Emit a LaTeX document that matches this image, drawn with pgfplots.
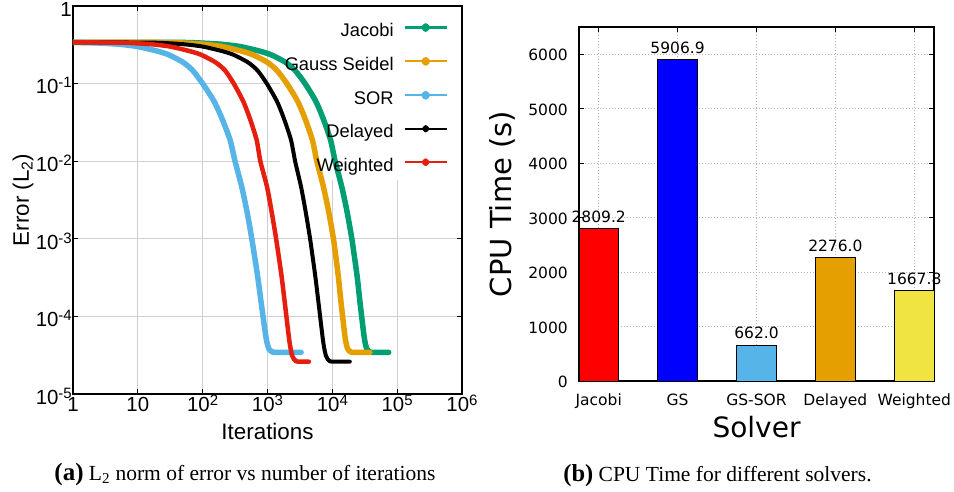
\documentclass[border=0pt]{standalone}
\usepackage{fontspec}
\setmainfont{Liberation Serif}
\newfontfamily\lsans{Liberation Sans}
\newfontfamily\dejavu{DejaVu Sans}
\usepackage{pgfplots}
\pgfplotsset{compat=1.18}
\definecolor{cjac}{HTML}{009E73}
\definecolor{cgs}{HTML}{E69F00}
\definecolor{csor}{HTML}{56B4E9}
\definecolor{cwt}{HTML}{E51E10}
\definecolor{byel}{HTML}{F0E442}
\newcommand\sps[1]{\raisebox{6pt}{\fontsize{15}{15}\selectfont #1}}
\begin{document}
\begin{tikzpicture}
\useasboundingbox (0,0) rectangle (954pt,492pt);
% ---------------- left panel ----------------
\begin{axis}[
  at={(73pt,98pt)}, anchor=south west,
  scale only axis, width=389pt, height=388pt,
  xmode=log, ymode=log,
  xmin=1, xmax=1e6, ymin=1e-5, ymax=1,
  xtick={1,10,100,1000,10000,100000,1000000},
  xticklabels={1,10,10\sps{2},10\sps{3},10\sps{4},10\sps{5},10\sps{6}},
  ytick={1e-5,1e-4,1e-3,1e-2,1e-1,1},
  yticklabels={10\sps{-5},10\sps{-4},10\sps{-3},10\sps{-2},10\sps{-1},1},
  xminorticks=false, yminorticks=false,
  tick align=inside, tickpos=both, major tick length=5pt,
  tick style={black, line width=0.9pt},
  grid=major, grid style={gray!38, line width=1pt},
  axis line style={line width=1.3pt},
  tick label style={font=\lsans\fontsize{20.4}{22}\selectfont, inner sep=0pt},
  xticklabel style={anchor=base, yshift=-17.7pt},
  yticklabel style={anchor=base east, xshift=-1pt, yshift=-10.3pt},
  xlabel={Iterations}, ylabel={Error (L\textsubscript{2})},
  label style={font=\lsans\fontsize{22.4}{24}\selectfont},
  xlabel style={at={(axis description cs:0.5,0)}, anchor=base, yshift=-45pt, inner sep=0pt},
  ylabel style={at={([xshift=-50pt]axis description cs:0,0.5)}, anchor=center},
  legend style={at={(rel axis cs:1,1)}, anchor=north east, xshift=-14pt, yshift=-17pt,
    draw=none, fill=none, inner sep=0pt,
    font=\lsans\fontsize{18.3}{20}\selectfont, row sep=16.5pt, column sep=10pt,
    nodes={inner sep=0pt, text height=13pt, text depth=4pt}},
  legend cell align=right, legend plot pos=right,
  legend image code/.code={\draw[#1, line width=2.2pt, line cap=butt] (0pt,4.5pt) -- (42pt,4.5pt);
     \fill[#1] (21pt,4.5pt) circle (1.6pt);},
]
\fill[white] (axis cs:1565,5.73e-3) rectangle ([xshift=-0.8pt,yshift=-0.8pt]rel axis cs:1,1);
\addplot[cjac, line width=5.5pt, line cap=round, line join=round, smooth, tension=0.4] coordinates {
(1,0.340) (10,0.340) (38,0.340) (76,0.336) (190,0.322) (380,0.300) (760,0.262) (1140,0.235)
(1901,0.188) (2661,0.148) (3802,0.100) (5572,0.059) (7261,0.035) (9397,0.0187) (11041,0.0100)
(13964,0.0047) (16749,0.0023) (20000,0.0010) (23988,3.42e-4) (26792,1.49e-4) (31117,5.3e-5)
(33963,3.83e-5) (38371,3.47e-5) (50000,3.44e-5) (74000,3.44e-5)};
\addlegendentry{Jacobi}
\addplot[cgs, line width=5.5pt, line cap=round, line join=round, smooth, tension=0.4] coordinates {
(1,0.340) (10,0.340) (40,0.336) (100,0.322) (200,0.300) (399,0.262) (598,0.235) (998,0.188)
(1396,0.148) (1995,0.100) (2924,0.059) (3811,0.035) (4932,0.0187) (5768,0.0100) (7278,0.0047)
(8730,0.0023) (10399,0.0010) (12300,3.42e-4) (13650,1.49e-4) (15780,5.3e-5) (17220,3.83e-5)
(19450,3.47e-5) (25000,3.44e-5) (38000,3.44e-5)};
\addlegendentry{Gauss Seidel}
\addplot[csor, line width=5.5pt, line cap=round, line join=round, smooth, tension=0.4] coordinates {
(1,0.340) (2,0.336) (5,0.322) (10,0.300) (20,0.262) (30,0.235) (50,0.188) (70,0.148) (100,0.100)
(150,0.059) (200,0.035) (265,0.0187) (316,0.0100) (400,0.0047) (480,0.0023) (573,0.0010)
(700,3.42e-4) (800,1.49e-4) (950,5.3e-5) (1050,3.83e-5) (1200,3.47e-5) (1500,3.44e-5)
(2000,3.44e-5) (3300,3.44e-5)};
\addlegendentry{SOR}
\addplot[black, line width=4pt, line cap=round, line join=round, smooth, tension=0.4] coordinates {
(1,0.340) (5,0.339) (20,0.336) (50,0.322) (100,0.300) (200,0.262) (300,0.235) (500,0.188)
(700,0.148) (977,0.100) (1400,0.059) (1803,0.035) (2307,0.0187) (2667,0.0100) (3289,0.0047)
(3855,0.0023) (4539,0.0010) (5433,3.4e-4) (6138,1.47e-4) (7211,4.78e-5) (7962,3.11e-5)
(9099,2.65e-5) (12000,2.61e-5) (18600,2.61e-5)};
\addlegendentry{Delayed}
\addplot[cwt, line width=4.5pt, line cap=round, line join=round, smooth, tension=0.4] coordinates {
(1,0.340) (2,0.339) (6.3,0.336) (15.8,0.322) (31.6,0.300) (63.2,0.262) (94.9,0.235) (158,0.188)
(221,0.148) (302,0.100) (423,0.059) (538,0.035) (681,0.0187) (776,0.0100) (982,0.0047)
(1151,0.0023) (1358,0.0010) (1641,3.4e-4) (1854,1.47e-4) (2178,4.78e-5) (2404,3.11e-5)
(2748,2.65e-5) (3500,2.61e-5) (4350,2.61e-5)};
\addlegendentry{Weighted}
\end{axis}
% ---------------- right panel ----------------
\begin{axis}[
  at={(579pt,111pt)}, anchor=south west,
  scale only axis, width=355pt, height=354pt,
  xmin=-0.25, xmax=4.25, ymin=0, ymax=6500,
  xtick={0,1,2,3,4}, xticklabels={Jacobi,GS,GS-SOR,Delayed,Weighted},
  ytick={0,1000,2000,3000,4000,5000,6000},
  /pgf/number format/1000 sep={}, /pgf/number format/assume math mode=true,
  tick align=inside, tickpos=both, major tick length=5pt,
  tick style={black, line width=0.8pt},
  grid=major, grid style={gray!60, line width=0.6pt, dash pattern=on 1pt off 2pt},
  axis line style={line width=1.1pt},
  tick label style={font=\dejavu\fontsize{15.5}{18}\selectfont, inner sep=0pt},
  xticklabel style={anchor=base, yshift=-24.7pt},
  yticklabel style={anchor=east, xshift=-11pt, yshift=-1pt},
  xlabel={Solver}, ylabel={CPU Time (s)},
  xlabel style={font=\dejavu\fontsize{28}{30}\selectfont, at={(axis description cs:0.5,0)}, anchor=base, yshift=-57pt, inner sep=0pt},
  ylabel style={font=\dejavu\fontsize{29}{31}\selectfont, at={([xshift=-77pt]axis description cs:0,0.5)}, anchor=center},
  every axis plot/.append style={ybar, bar width=0.5, bar shift=0pt, draw=black, line width=0.8pt},
  nodes near coords={\pgfmathprintnumber[fixed,fixed zerofill,precision=1]{\pgfplotspointmeta}},
  every node near coord/.append style={font=\dejavu\fontsize{15.5}{18}\selectfont, anchor=base, yshift=6pt, inner sep=0pt, text=black},
]
\addplot[fill=red] coordinates {(0,2809.2)};
\addplot[fill=blue] coordinates {(1,5906.9)};
\addplot[fill=csor] coordinates {(2,662.0)};
\addplot[fill=cgs] coordinates {(3,2276.0)};
\addplot[fill=byel] coordinates {(4,1667.8)};
\end{axis}
% ---------------- captions ----------------
\node[anchor=base, font=\fontsize{21.5}{24}\selectfont] at (245pt,11.3pt)
  {{\fontsize{25}{26}\selectfont\bfseries (a)} L\textsubscript{2} norm of error vs number of iterations};
\node[anchor=base, font=\fontsize{21.5}{24}\selectfont] at (717.5pt,10.3pt)
  {{\fontsize{24.5}{26}\selectfont\bfseries (b)} CPU Time for different solvers.};
\end{tikzpicture}
\end{document}
